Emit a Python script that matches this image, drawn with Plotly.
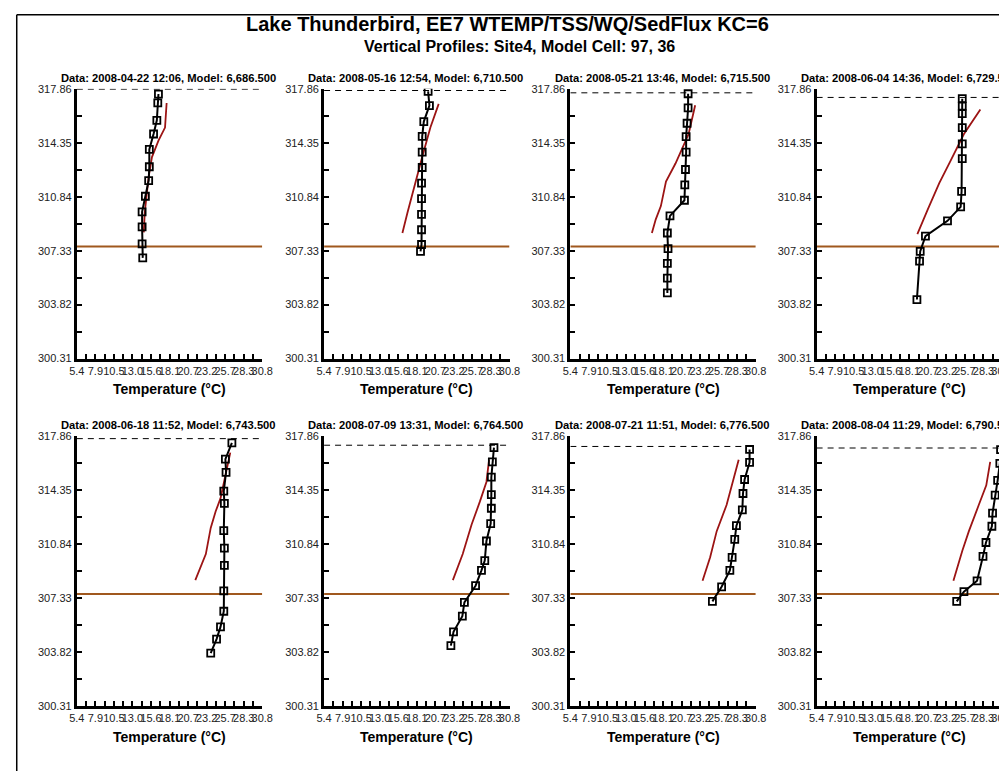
import plotly.graph_objects as go

# ---------------- data ----------------
panel_titles = [
    "Data: 2008-04-22 12:06, Model: 6,686.500",
    "Data: 2008-05-16 12:54, Model: 6,710.500",
    "Data: 2008-05-21 13:46, Model: 6,715.500",
    "Data: 2008-06-04 14:36, Model: 6,729.500",
    "Data: 2008-06-18 11:52, Model: 6,743.500",
    "Data: 2008-07-09 13:31, Model: 6,764.500",
    "Data: 2008-07-21 11:51, Model: 6,776.500",
    "Data: 2008-08-04 11:29, Model: 6,790.500",
]

obs_temp_1 = [16.58, 16.49, 16.36, 15.91, 15.33, 15.33, 15.24, 14.79, 14.34, 14.34, 14.34, 14.43]
obs_elev_1 = [317.52, 316.94, 315.81, 314.92, 313.92, 312.79, 311.89, 310.87, 309.86, 308.88, 307.77, 306.86]
mod_temp_1 = [17.70, 17.48, 16.58, 15.69, 15.24, 14.70, 14.57]
mod_elev_1 = [316.94, 315.34, 314.49, 313.42, 312.15, 309.80, 308.52]

obs_temp_2 = [19.65, 19.83, 19.06, 18.84, 18.84, 18.84, 18.75, 18.75, 18.75, 18.75, 18.75, 18.61]
obs_elev_2 = [317.69, 316.77, 315.73, 314.77, 313.74, 312.74, 311.72, 310.72, 309.69, 308.69, 307.73, 307.28]
mod_temp_2 = [21.10, 19.96, 18.84, 17.72, 16.82, 16.13]
mod_elev_2 = [316.88, 315.34, 313.42, 311.50, 309.80, 308.48]

obs_temp_3 = [21.53, 21.53, 21.39, 21.26, 21.26, 21.17, 21.08, 21.03, 19.05, 18.69, 18.78, 18.69, 18.69, 18.69]
obs_elev_3 = [317.54, 316.62, 315.62, 314.75, 313.74, 312.61, 311.61, 310.61, 309.59, 308.48, 307.46, 306.50, 305.54, 304.58]
mod_temp_3 = [22.50, 21.60, 19.80, 18.50, 17.80, 17.10, 16.57]
mod_elev_3 = [316.79, 314.92, 313.00, 311.82, 310.23, 309.37, 308.48]

obs_temp_4 = [25.35, 25.35, 25.35, 25.35, 25.35, 25.35, 25.26, 25.13, 23.33, 20.31, 19.59, 19.50, 19.14]
obs_elev_4 = [317.22, 316.73, 316.24, 315.34, 314.28, 313.32, 311.19, 310.18, 309.27, 308.27, 307.28, 306.65, 304.15]
mod_temp_4 = [27.83, 25.58, 23.78, 22.20, 20.63, 19.20]
mod_elev_4 = [316.52, 314.92, 313.21, 311.72, 310.01, 308.41]

obs_temp_5 = [26.64, 25.75, 25.84, 25.53, 25.61, 25.53, 25.61, 25.61, 25.53, 25.53, 25.08, 24.54, 23.74]
obs_elev_5 = [317.43, 316.37, 315.52, 314.29, 313.50, 311.73, 310.58, 309.46, 307.80, 306.48, 305.46, 304.67, 303.75]
mod_temp_5 = [26.42, 25.75, 25.08, 24.41, 23.74, 23.07, 22.39, 21.63]
mod_elev_5 = [316.80, 315.31, 313.82, 312.97, 311.90, 310.20, 309.35, 308.50]

obs_temp_6 = [28.67, 28.45, 28.31, 28.31, 28.31, 28.22, 27.64, 27.41, 26.96, 26.15, 24.62, 24.34, 23.13, 22.77]
obs_elev_6 = [317.12, 316.20, 315.20, 314.07, 313.18, 312.18, 311.05, 309.77, 309.14, 308.14, 307.05, 306.16, 305.14, 304.24]
mod_temp_6 = [28.00, 27.64, 26.74, 25.61, 24.39, 23.04]
mod_elev_6 = [316.33, 314.89, 313.61, 312.12, 310.20, 308.50]

obs_temp_7 = [29.95, 29.95, 29.27, 29.05, 28.96, 28.15, 27.92, 27.56, 27.25, 26.12, 24.86]
obs_elev_7 = [317.01, 316.16, 315.05, 314.14, 313.07, 312.05, 311.16, 309.99, 309.14, 308.07, 307.12]
mod_temp_7 = [28.46, 27.70, 26.80, 25.45, 24.55, 23.51]
mod_elev_7 = [316.33, 314.99, 313.39, 311.69, 309.99, 308.46]

obs_temp_8 = [30.60, 30.50, 30.20, 29.86, 29.50, 29.41, 28.60, 28.19, 27.38, 25.58, 24.59]
obs_elev_8 = [317.00, 316.10, 315.00, 314.03, 312.86, 312.01, 310.95, 310.05, 308.46, 307.75, 307.12]
mod_temp_8 = [29.18, 28.64, 27.61, 26.26, 25.36, 24.14]
mod_elev_8 = [316.20, 314.67, 313.39, 311.69, 310.41, 308.46]

surface_elev = [317.84, 317.75, 317.60, 317.30, 317.71, 317.28, 317.20, 317.10]
level_line_elev = [307.60] * 8

x_tick_vals = [5.4, 7.94, 10.48, 13.02, 15.56, 18.1, 20.64, 23.18, 25.72, 28.26, 30.8]
x_tick_text = ["5.4", "7.9", "10.5", "13.0", "15.6", "18.1", "20.7", "23.2", "25.7", "28.3", "30.8"]
y_tick_vals = [300.31, 303.82, 307.33, 310.84, 314.35, 317.86]
y_tick_text = ["300.31", "303.82", "307.33", "310.84", "314.35", "317.86"]
x_min, x_max = 5.4, 30.8
y_min, y_max = 300.31, 317.86

main_title = "Lake Thunderbird, EE7 WTEMP/TSS/WQ/SedFlux KC=6"
sub_title = "Vertical Profiles: Site4, Model Cell: 97, 36"
x_axis_title = "Temperature (°C)"

obs_temps = [obs_temp_1, obs_temp_2, obs_temp_3, obs_temp_4, obs_temp_5, obs_temp_6, obs_temp_7, obs_temp_8]
obs_elevs = [obs_elev_1, obs_elev_2, obs_elev_3, obs_elev_4, obs_elev_5, obs_elev_6, obs_elev_7, obs_elev_8]
mod_temps = [mod_temp_1, mod_temp_2, mod_temp_3, mod_temp_4, mod_temp_5, mod_temp_6, mod_temp_7, mod_temp_8]
mod_elevs = [mod_elev_1, mod_elev_2, mod_elev_3, mod_elev_4, mod_elev_5, mod_elev_6, mod_elev_7, mod_elev_8]

# ---------------- layout geometry (screen pixels) ----------------
W, H = 1007, 771
OFF = 8  # default page body margin shifts the figure by 8px
col_x = [70, 322, 573, 824]
plot_w = 189
row_top = [84, 437]
plot_h = 274
FONT = "Arial, Liberation Sans, sans-serif"
MODEL_COLOR = "#9C1414"
LEVEL_COLOR = "#A0581E"


def px(xp):
    return (xp - OFF) / W


def py(yp):
    return 1 - (yp - OFF) / H


fig = go.Figure()
annotations = []
layout_axes = {}

for i in range(8):
    r, c = divmod(i, 4)
    n = i + 1
    xa = "x" if n == 1 else f"x{n}"
    ya = "y" if n == 1 else f"y{n}"
    x0 = col_x[c]
    x1 = x0 + plot_w
    top = row_top[r]
    bot = top + plot_h

    fig.add_trace(go.Scatter(x=[x_min, x_max], y=[level_line_elev[i]] * 2, mode="lines",
                             line=dict(color=LEVEL_COLOR, width=2), xaxis=xa, yaxis=ya,
                             showlegend=False, hoverinfo="skip"))
    fig.add_trace(go.Scatter(x=[x_min, x_max], y=[surface_elev[i]] * 2, mode="lines",
                             line=dict(color="black", width=1, dash="6px,5px"), xaxis=xa, yaxis=ya,
                             showlegend=False, hoverinfo="skip"))
    fig.add_trace(go.Scatter(x=mod_temps[i], y=mod_elevs[i], mode="lines",
                             line=dict(color=MODEL_COLOR, width=1.8), xaxis=xa, yaxis=ya,
                             showlegend=False))
    fig.add_trace(go.Scatter(x=obs_temps[i], y=obs_elevs[i], mode="lines+markers",
                             line=dict(color="black", width=2),
                             marker=dict(symbol="square-open", size=7, color="black",
                                         line=dict(width=1.8, color="black")),
                             xaxis=xa, yaxis=ya, showlegend=False))

    xkey = "xaxis" if n == 1 else f"xaxis{n}"
    ykey = "yaxis" if n == 1 else f"yaxis{n}"
    layout_axes[xkey] = dict(
        domain=[px(x0), min(px(x1), 1.0)], anchor=ya, range=[x_min, x_max],
        tickmode="array", tickvals=x_tick_vals, ticktext=x_tick_text, tickangle=0,
        ticks="inside", ticklen=5, tickwidth=1.5, tickcolor="black",
        minor=dict(tickmode="linear", tick0=x_min, dtick=(x_tick_vals[1] - x_tick_vals[0]) / 2,
                   ticks="inside", ticklen=5, tickwidth=1.5, tickcolor="black"),
        showline=True, linecolor="black", linewidth=3, showgrid=False, zeroline=False,
        tickfont=dict(family=FONT, size=11, color="#222"), fixedrange=True,
    )
    layout_axes[ykey] = dict(
        domain=[py(bot), py(top)], anchor=xa, range=[y_min, y_max],
        tickmode="array", tickvals=y_tick_vals, ticktext=y_tick_text,
        ticks="inside", ticklen=5, tickwidth=1.5, tickcolor="black",
        minor=dict(tickmode="linear", tick0=y_min, dtick=(y_tick_vals[1] - y_tick_vals[0]) / 2,
                   ticks="inside", ticklen=5, tickwidth=1.5, tickcolor="black"),
        showline=True, linecolor="black", linewidth=3, showgrid=False, zeroline=False,
        tickfont=dict(family=FONT, size=11, color="#222"), fixedrange=True,
    )

    annotations.append(dict(text=f"<b>{panel_titles[i]}</b>", xref="paper", yref="paper",
                            x=px(x0 - 18), y=py(top - 11), xanchor="left", yanchor="middle",
                            showarrow=False, font=dict(family=FONT, size=11.2, color="black")))
    annotations.append(dict(text=f"<b>{x_axis_title}</b>", xref="paper", yref="paper",
                            x=px(x0 + plot_w / 2), y=py(bot + 31), xanchor="center",
                            yanchor="middle", showarrow=False,
                            font=dict(family=FONT, size=14, color="black")))

annotations.append(dict(text=f"<b>{main_title}</b>", xref="paper", yref="paper",
                        x=px(509), y=py(18), xanchor="center", yanchor="middle", showarrow=False,
                        font=dict(family=FONT, size=20, color="black")))
annotations.append(dict(text=f"<b>{sub_title}</b>", xref="paper", yref="paper",
                        x=px(521), y=py(41), xanchor="center", yanchor="middle", showarrow=False,
                        font=dict(family=FONT, size=16, color="black")))

shapes = [
    dict(type="line", xref="paper", yref="paper", x0=px(8.75), x1=px(8.75), y0=py(8.75), y1=0,
         line=dict(color="black", width=1.5)),
    dict(type="line", xref="paper", yref="paper", x0=px(8.75), x1=1, y0=py(8.75), y1=py(8.75),
         line=dict(color="black", width=1.5)),
]

fig.update_layout(
    width=W, height=H, margin=dict(l=0, r=0, t=0, b=0),
    paper_bgcolor="white", plot_bgcolor="white",
    showlegend=False, annotations=annotations, shapes=shapes,
    **layout_axes,
)

fig.write_html("out.html")
